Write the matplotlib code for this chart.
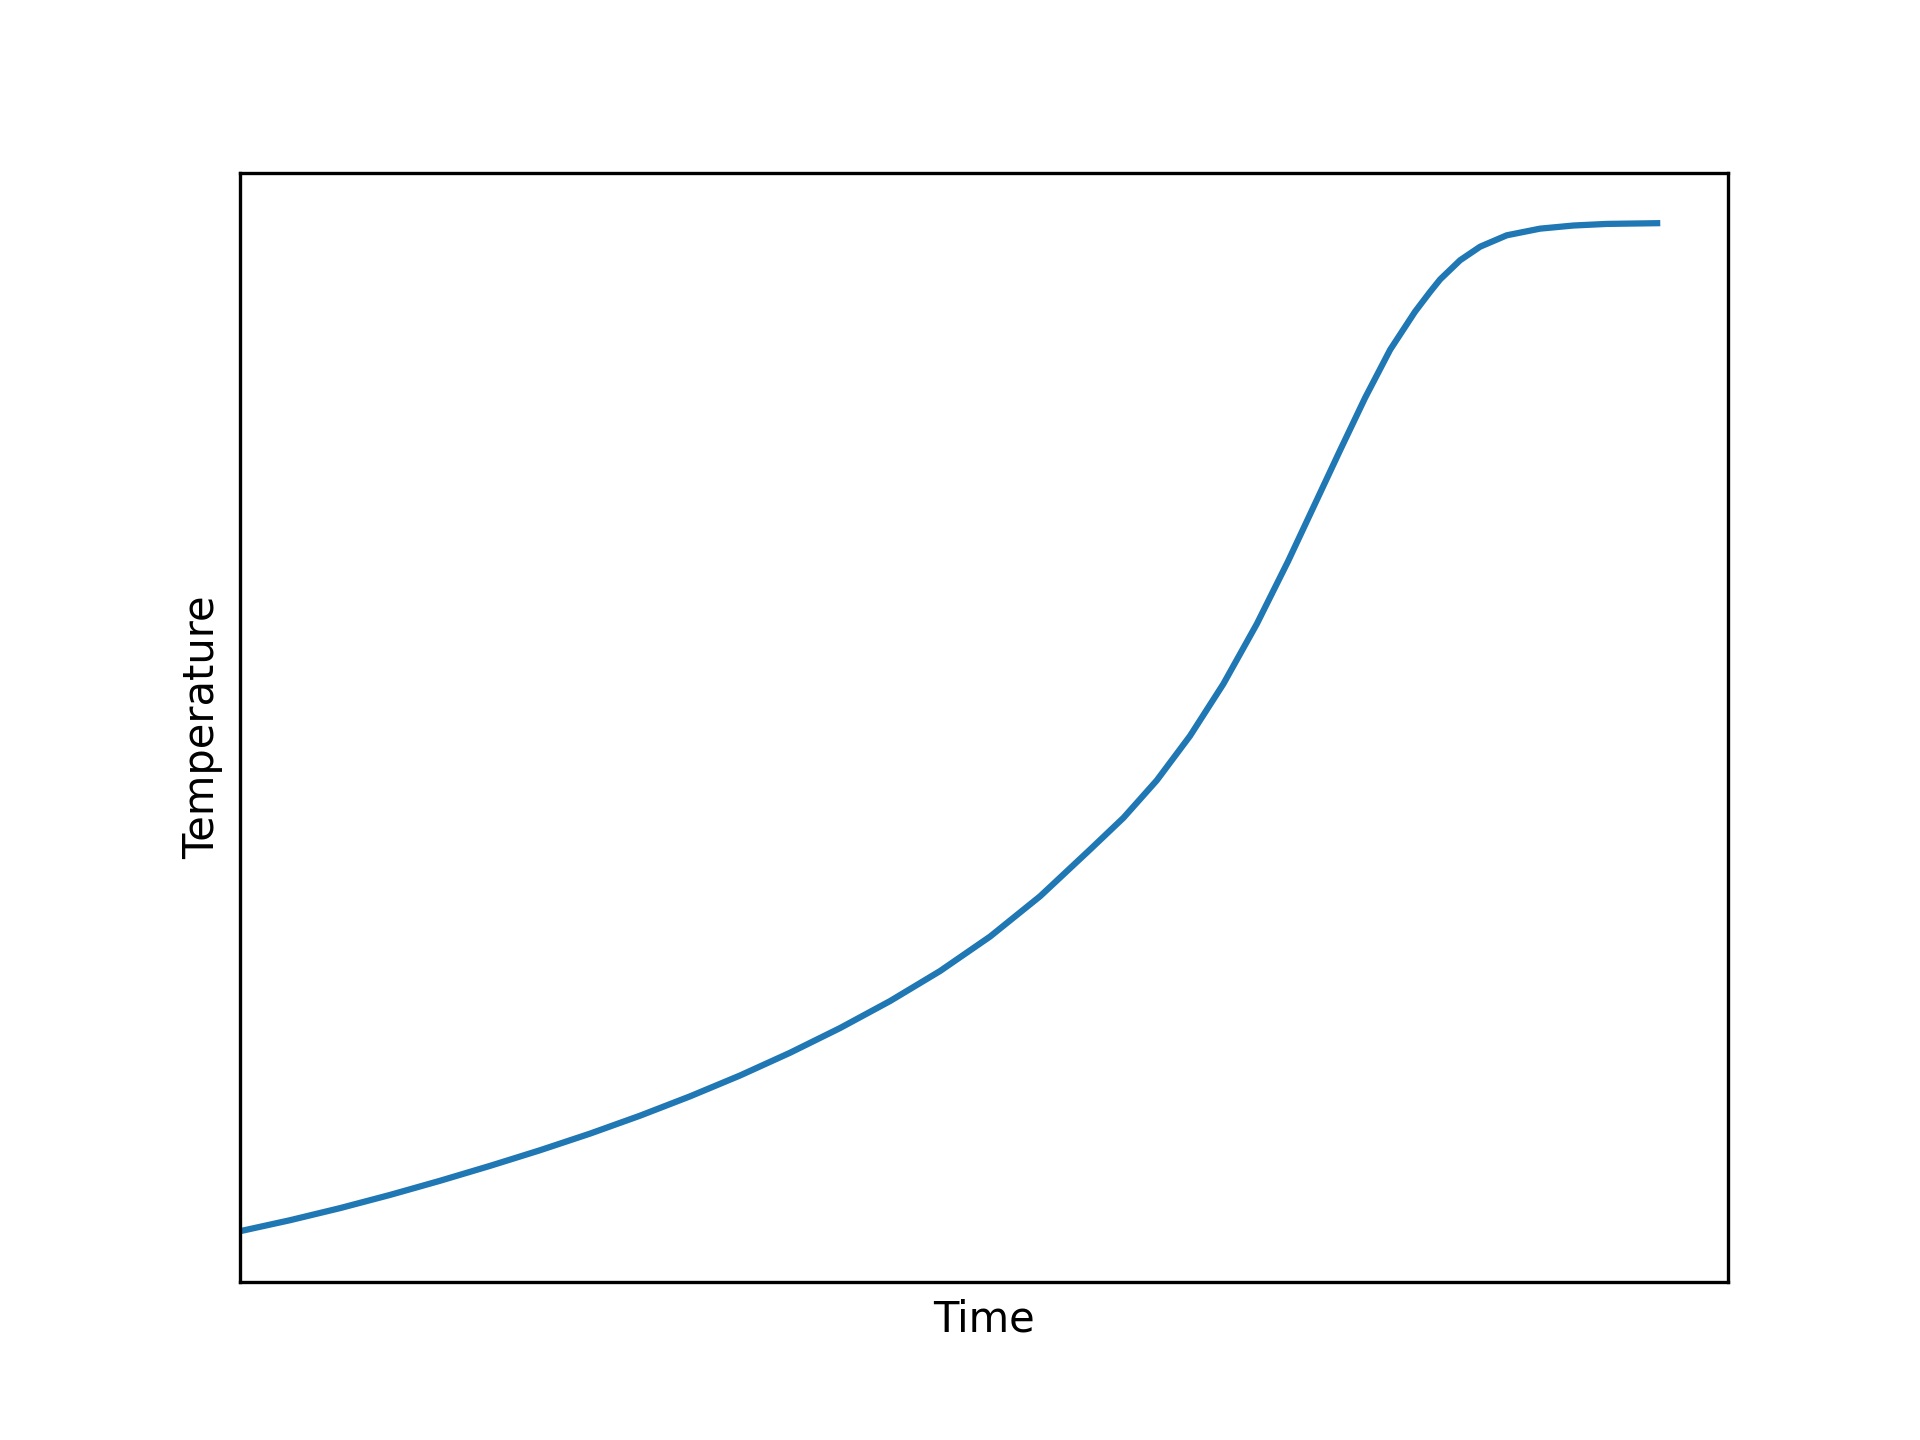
import matplotlib
matplotlib.use("Agg")
import matplotlib.pyplot as plt

# Time and temperature (arbitrary units)
time = [0.0, 3.53, 7.06, 10.59, 14.11, 17.64, 21.17, 24.70, 28.23, 31.76,
        35.29, 38.81, 42.34, 45.87, 49.40, 52.93, 56.46, 59.99, 62.34, 64.69,
        67.04, 69.39, 71.75, 73.96, 75.78, 77.63, 79.39, 81.16, 82.92, 83.98,
        84.69, 86.10, 87.51, 89.39, 91.74, 94.09, 96.45, 100.0]
temperature = [0.0, 1.09, 2.29, 3.60, 5.00, 6.48, 8.03, 9.68, 11.46, 13.38,
               15.45, 17.70, 20.15, 22.83, 25.81, 29.23, 33.23, 37.87, 41.01, 44.72,
               49.14, 54.29, 60.24, 66.47, 71.93, 77.48, 82.67, 87.45, 91.23, 93.19,
               94.43, 96.33, 97.67, 98.80, 99.46, 99.77, 99.93, 100.0]

x_label = "Time"
y_label = "Temperature"

fig, ax = plt.subplots(figsize=(6.4, 4.8), dpi=300)
ax.plot(time, temperature, color="#1f77b4", linewidth=1.5)
ax.set_xlim(left=0)
ax.set_xticks([])
ax.set_yticks([])
ax.set_xlabel(x_label)
ax.set_ylabel(y_label)
fig.savefig("out.png", dpi=300)
